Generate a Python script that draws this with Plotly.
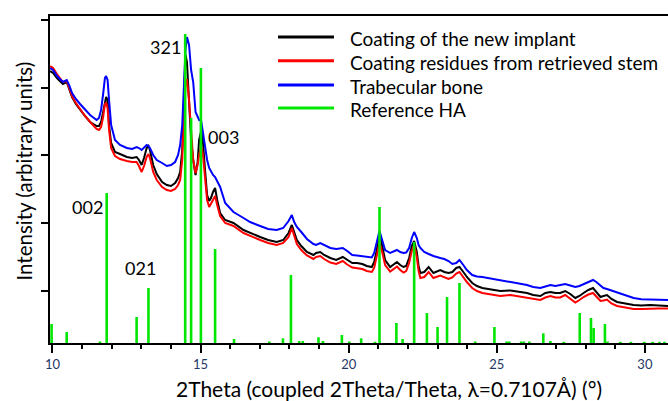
import plotly.graph_objects as go

# 2Theta grid (degrees) shared by the three measured patterns
two_theta = [
    9.92, 10.02, 10.15, 10.25, 10.35, 10.48, 10.56, 10.66, 10.79, 10.93,
    11.10, 11.27, 11.40, 11.49, 11.57, 11.64, 11.71, 11.77, 11.81, 11.86,
    11.91, 11.98, 12.11, 12.28, 12.51, 12.69, 12.84, 12.92, 13.01, 13.09,
    13.18, 13.24, 13.29, 13.40, 13.52, 13.70, 13.86, 14.00, 14.14, 14.24,
    14.31, 14.38, 14.43, 14.49, 14.54, 14.61, 14.68, 14.75, 14.83, 14.90,
    14.95, 15.02, 15.08, 15.15, 15.22, 15.29, 15.35, 15.42, 15.49, 15.56,
    15.66, 15.83, 16.11, 16.45, 16.67, 17.01, 17.28, 17.57, 17.79, 17.97,
    18.08, 18.16, 18.25, 18.40, 18.59, 18.81, 18.90, 19.04, 19.17, 19.38,
    19.58, 19.80, 19.95, 20.12, 20.28, 20.46, 20.61, 20.78, 20.86, 20.95,
    21.04, 21.13, 21.23, 21.40, 21.52, 21.63, 21.74, 21.85, 21.94, 22.04,
    22.13, 22.21, 22.30, 22.36, 22.42, 22.55, 22.70, 22.86, 23.09, 23.23,
    23.37, 23.50, 23.63, 23.74, 23.87, 23.99, 24.17, 24.33, 24.51, 24.71,
    24.89, 25.12, 25.46, 25.73, 26.02, 26.23, 26.47, 26.64, 26.81, 26.98,
    27.14, 27.31, 27.48, 27.65, 27.79, 27.93, 28.09, 28.25, 28.36, 28.50,
    28.60, 28.72, 28.87, 29.06, 29.34, 29.62, 29.88, 30.18, 30.47, 30.78,
]

new_implant = [
    272, 270, 265, 262, 259, 261, 255, 246, 239, 233,
    227, 221, 219, 217, 217, 221, 231, 243, 246, 243,
    218, 200, 191, 189, 186, 185, 186, 183, 178, 185,
    195, 197, 193, 178, 169, 161, 158, 157, 160, 165,
    171, 193, 243, 288, 281, 243, 203, 183, 168, 181,
    203, 212, 201, 173, 148, 142, 145, 151, 155, 143,
    130, 123, 120, 113, 110, 106, 103, 101, 103, 110,
    118, 111, 103, 97, 91, 88, 90, 91, 88, 85,
    83, 86, 83, 80, 80, 79, 77, 76, 81, 93,
    110, 98, 83, 76, 79, 81, 78, 76, 77, 85,
    97, 102, 91, 77, 70, 71, 76, 70, 73, 71,
    70, 71, 75, 76, 71, 66, 60, 57, 55, 54,
    53, 52, 52.5, 51, 50, 48, 47, 50, 51, 50,
    50, 52, 49, 45, 47, 50, 53, 55, 51, 46,
    47, 48, 44, 41, 39.5, 38, 37.5, 38, 37.5, 37,
]

retrieved_stem = [
    277, 275, 269, 265, 261, 262, 256, 247, 240, 234,
    227, 221, 217, 214, 213, 216, 226, 239, 240, 235,
    213, 195, 187, 184, 182, 181, 181, 177, 171, 177,
    186, 189, 185, 171, 163, 156, 153, 152, 154, 158,
    163, 183, 223, 259, 264, 243, 213, 183, 170, 178,
    188, 197, 188, 163, 143, 136, 139, 143, 147, 138,
    127, 120, 117, 110, 107, 103, 100, 98, 100, 106,
    115, 107, 99, 93, 87.5, 84, 86, 87, 84, 80.5,
    79, 82, 78.5, 75.5, 75, 74, 72, 71, 75, 86,
    100, 91, 78, 71.5, 74, 76.5, 73, 70.5, 72, 80,
    92, 98, 86, 72, 65, 66, 71, 65, 67.5, 65.5,
    64, 65.5, 69.5, 71, 65.5, 61, 55, 52, 50, 49,
    48, 47, 48, 46.5, 45.5, 44, 43, 45.5, 47, 45.5,
    45.5, 48, 44.5, 40.5, 43, 46, 48.5, 50, 46.5, 42,
    42.5, 43.5, 39.5, 37, 35.5, 34, 34, 34.5, 34.5, 34.5,
]

trabecular_bone = [
    275, 273, 267, 264, 261, 263, 258, 250, 244, 239,
    233, 228, 225, 223, 225, 233, 249, 265, 267, 263,
    243, 218, 203, 198, 195, 194, 196, 195, 193, 195,
    198, 197, 195, 188, 183, 180, 177, 178, 181, 188,
    198, 218, 248, 293, 306, 298, 273, 261, 231, 225,
    223, 222, 211, 196, 183, 175, 171, 168, 166, 162,
    156, 140, 131, 125, 121, 117, 114, 113, 115, 122,
    128, 121, 116, 111, 104, 99, 98, 100, 98, 95,
    94, 95, 92, 88, 87.5, 87, 86, 85.5, 90, 100,
    112, 103, 93, 90, 92, 93, 91, 90, 90.5, 95,
    105, 111, 105, 98, 95, 91, 89, 87, 85, 84,
    82, 79, 80, 83, 78, 73, 68, 66.5, 66, 65,
    64, 62.5, 61, 59.5, 58, 56, 55, 56.5, 58, 57,
    58, 59, 57.5, 56, 57, 59, 61, 63, 61, 58,
    55, 54, 52.5, 50.5, 47.5, 45, 43.7, 43.5, 43.5, 43,
]

# Reference HA stick pattern
ref_positions = [
    9.97, 10.48, 11.60, 11.83, 12.84, 13.24, 14.48, 14.68, 15.01, 15.49,
    16.13, 17.32, 17.78, 18.05, 18.33, 18.45, 18.98, 19.13, 19.77, 20.02,
    20.42, 20.89, 21.04, 21.61, 21.82, 22.21, 22.64, 23.00, 23.32, 23.74,
    24.27, 24.92, 25.33, 25.42, 25.82, 25.91, 26.10, 26.57, 26.81, 27.26,
    27.80, 28.18, 28.27, 28.65, 28.74, 29.17, 29.53, 29.98, 30.26, 30.49,
    30.66,
]
ref_intensity = [
    19, 11, 1.5, 150, 26, 55, 309, 225, 275, 94,
    4, 1.5, 4.7, 68, 2, 2, 5.7, 2, 8, 1.5,
    4.7, 1.2, 136, 20, 4, 101, 30, 16, 46, 60,
    1.5, 16, 1.5, 1.5, 1.5, 1.5, 1.5, 9.7, 2, 1.2,
    30, 25, 15, 19, 1.5, 1.2, 1.2, 1.2, 1.2, 1.2,
    1.2,
]

series_names = [
    "Coating of the new implant",
    "Coating residues from retrieved stem",
    "Trabecular bone",
    "Reference HA",
]
series_colors = ["#000000", "#ff0000", "#0000ff", "#00e600"]

peak_labels = ["321", "003", "002", "021"]
peak_label_x = [13.80, 15.79, 11.17, 12.96]
peak_label_y = [296, 206, 136, 75]

x_title = "2Theta (coupled 2Theta/Theta, λ=0.7107Å) (°)"
y_title = "Intensity (arbitrary units)"

FONT = "Lato"

fig = go.Figure()
for vals, name, col in zip([new_implant, retrieved_stem, trabecular_bone],
                           series_names[:3], series_colors[:3]):
    fig.add_trace(go.Scatter(x=two_theta, y=vals, mode="lines", name=name,
                             showlegend=False,
                             line=dict(color=col, width=2)))

stick_x, stick_y = [], []
for p, h in zip(ref_positions, ref_intensity):
    stick_x += [p, p, None]
    stick_y += [0, h, None]
fig.add_trace(go.Scatter(x=stick_x, y=stick_y, mode="lines", name=series_names[3],
                         showlegend=False,
                         line=dict(color=series_colors[3], width=2.6)))

for t, x, y in zip(peak_labels, peak_label_x, peak_label_y):
    fig.add_annotation(x=x, y=y, text=t, showarrow=False,
                       font=dict(family=FONT, size=18, color="#000000"))

# legend (drawn in paper coordinates)
leg_x0, leg_x1, leg_tx = 0.369, 0.4595, 0.482
leg_rows = [0.936, 0.863, 0.789, 0.719]
for name, col, yy in zip(series_names, series_colors, leg_rows):
    fig.add_shape(type="line", xref="paper", yref="paper",
                  x0=leg_x0, x1=leg_x1, y0=yy, y1=yy,
                  line=dict(color=col, width=3))
    fig.add_annotation(xref="paper", yref="paper", x=leg_tx, y=yy - 0.004,
                       text=name, showarrow=False, xanchor="left", yanchor="middle",
                       font=dict(family=FONT, size=19, color="#000000"))

# axis titles
fig.add_annotation(xref="paper", yref="paper", x=0.5485, y=-0.14,
                   text=x_title, showarrow=False, xanchor="center", yanchor="middle",
                   font=dict(family=FONT, size=21, color="#000000"))
fig.add_annotation(xref="paper", yref="paper", x=-0.042, y=0.5245,
                   text=y_title, showarrow=False, textangle=-90,
                   xanchor="center", yanchor="middle",
                   font=dict(family=FONT, size=20.5, color="#000000"))

fig.update_layout(
    width=668, height=401,
    margin=dict(l=50, r=0, t=16, b=58),
    paper_bgcolor="white", plot_bgcolor="white",
    font=dict(family=FONT, color="#000000"),
    showlegend=False,
    xaxis=dict(range=[9.916, 30.78], showgrid=False, zeroline=False,
               showline=True, linecolor="#000000", linewidth=2, mirror=True,
               ticks="outside", ticklen=8, tickwidth=2, tickcolor="#000000",
               tick0=10, dtick=5,
               minor=dict(dtick=1, ticks="outside", ticklen=4, tickwidth=2,
                          tickcolor="#000000"),
               tickfont=dict(family=FONT, size=13, color="#1f3864")),
    yaxis=dict(range=[0, 327], showgrid=False, zeroline=False,
               showline=True, linecolor="#000000", linewidth=2,
               ticks="outside", ticklen=7, tickwidth=2, tickcolor="#000000",
               tick0=52.3, dtick=67.7, showticklabels=False),
)

fig.write_html("out.html")
